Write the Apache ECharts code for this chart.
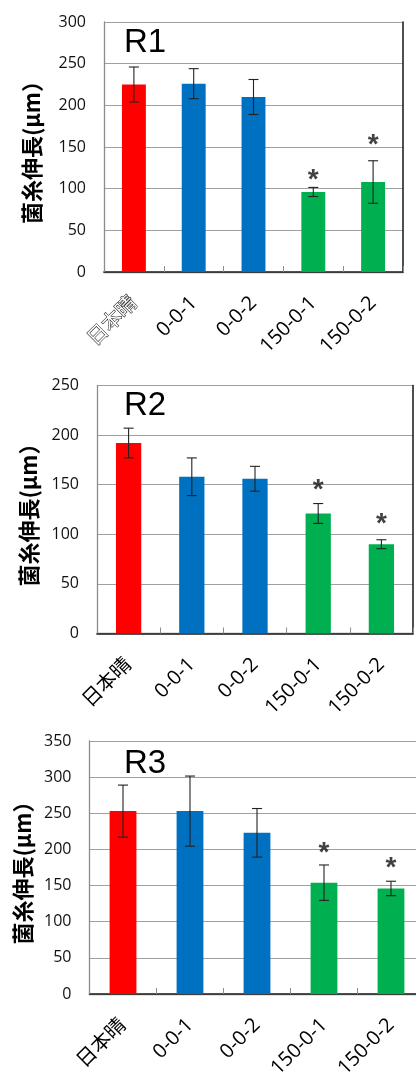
<!DOCTYPE html>
<html>
<head>
<meta charset="utf-8">
<script src="https://cdn.jsdelivr.net/npm/echarts@6/dist/echarts.min.js"></script>
<style>
html,body{margin:0;padding:0;background:#fff;}
#chart{width:416px;height:1073px;}
</style>
</head>
<body>
<div id="chart"></div>
<script>
// ---- data ----
const categories = ['日本晴', '0-0-1', '0-0-2', '150-0-1', '150-0-2'];
const barColors = ['#FF0000', '#0070C0', '#0070C0', '#00B050', '#00B050'];
const panelTitles = ['R1', 'R2', 'R3'];
const yMaxes = [300, 250, 350];
const yStep = 50;

const r1Means = [225, 226, 210, 96, 108];
const r1Errors = [21, 18, 21, 5.5, 25.5];
const r1Stars = [null, null, null, 119, 161];

const r2Means = [192, 158, 156, 121, 90];
const r2Errors = [15, 19, 12.5, 10, 4.5];
const r2Stars = [null, null, null, 151, 117];

const r3Means = [253, 253, 223, 154, 146];
const r3Errors = [36, 48.5, 33.6, 24.5, 10];
const r3Stars = [null, null, null, 204, 184];

const yAxisName = '菌糸伸長(µm）';

// ---- layout ----
const grids = [
  {left: 104, top: 22, width: 299, height: 250},
  {left: 97, top: 385.5, width: 316, height: 248},
  {left: 89.5, top: 741, width: 335, height: 253}
];
const nameGaps = [61, 57, 56];
const titlePos = [{left: 124, top: 26}, {left: 124, top: 389}, {left: 124, top: 747}];

const panels = [
  {means: r1Means, errors: r1Errors, stars: r1Stars},
  {means: r2Means, errors: r2Errors, stars: r2Stars},
  {means: r3Means, errors: r3Errors, stars: r3Stars}
];

const numFont = '"Open Sans", "Noto Sans CJK JP", sans-serif';

const option = {
  animation: false,
  backgroundColor: '#fff',
  title: panelTitles.map((t, i) => ({
    text: t, left: titlePos[i].left, top: titlePos[i].top, padding: 0,
    textStyle: {fontSize: 33, fontWeight: 'normal', fontFamily: '"Liberation Sans", Arial, sans-serif', color: '#000'}
  })),
  grid: grids.map(g => Object.assign({containLabel: false, outerBoundsMode: 'none'}, g)),
  xAxis: [],
  yAxis: [],
  series: []
};

panels.forEach((p, i) => {
  option.xAxis.push({
    type: 'category', gridIndex: i, data: categories, position: 'bottom',
    axisLine: {lineStyle: {color: '#8c8c8c', width: 1.3}},
    axisTick: {show: true, inside: true, length: 6, lineStyle: {color: '#8c8c8c'}},
    axisLabel: {
      interval: 0, rotate: 45, margin: 28, fontSize: 20, color: '#000', fontFamily: numFont,
      formatter: (v) => (i === 0 && v === '日本晴') ? '{o|' + v + '}' : v,
      rich: {o: {fontSize: 20, color: '#fff', textBorderColor: '#000', textBorderWidth: 1, fontFamily: numFont}}
    }
  });
  option.xAxis.push({
    type: 'category', gridIndex: i, data: categories, position: 'top',
    axisLine: {lineStyle: {color: '#222', width: 1.6}},
    axisTick: {show: false}, axisLabel: {show: false}
  });
  option.yAxis.push({
    type: 'value', gridIndex: i, min: 0, max: yMaxes[i], interval: yStep,
    name: yAxisName, nameLocation: 'middle', nameGap: nameGaps[i], nameRotate: 90,
    nameTextStyle: {fontSize: 22, fontWeight: 'bold', color: '#000', fontFamily: '"Noto Sans CJK JP", sans-serif'},
    axisLine: {show: true, lineStyle: {color: '#8c8c8c', width: 1.3}},
    axisTick: {show: false},
    axisLabel: {fontSize: 16, color: '#111', margin: 18, fontFamily: numFont},
    splitLine: {show: true, lineStyle: {color: '#a0a0a0', width: 1.2}}
  });
  option.yAxis.push({
    type: 'value', gridIndex: i, min: 0, max: yMaxes[i], interval: yStep, position: 'right',
    axisLine: {show: true, lineStyle: {color: '#222', width: 1.6}},
    axisTick: {show: false}, axisLabel: {show: false}, splitLine: {show: false}
  });
  const xIdx = i * 2, yIdx = i * 2;
  option.series.push({
    type: 'bar', xAxisIndex: xIdx, yAxisIndex: yIdx, barWidth: '40%',
    data: p.means.map((v, k) => ({value: v, itemStyle: {color: barColors[k]}})),
    z: 2
  });
  option.series.push({
    type: 'custom', xAxisIndex: xIdx, yAxisIndex: yIdx, z: 5,
    data: p.means.map((m, k) => [k, m - p.errors[k], m + p.errors[k]]),
    encode: {x: 0, y: [1, 2]},
    renderItem: (params, api) => {
      const x = api.value(0);
      const lo = api.coord([x, api.value(1)]);
      const hi = api.coord([x, api.value(2)]);
      const hw = 5;
      const st = {stroke: '#222', lineWidth: 1.1};
      return {type: 'group', children: [
        {type: 'line', shape: {x1: hi[0], y1: hi[1], x2: lo[0], y2: lo[1]}, style: st},
        {type: 'line', shape: {x1: hi[0] - hw, y1: hi[1], x2: hi[0] + hw, y2: hi[1]}, style: st},
        {type: 'line', shape: {x1: lo[0] - hw, y1: lo[1], x2: lo[0] + hw, y2: lo[1]}, style: st}
      ]};
    }
  });
  option.series.push({
    type: 'scatter', xAxisIndex: xIdx, yAxisIndex: yIdx, symbolSize: 0, z: 6,
    data: p.stars.map((v, k) => v == null ? null : [k, v]).filter(d => d),
    label: {show: true, position: 'inside', formatter: '*', fontSize: 28, fontWeight: 'bold', color: '#111',
      fontFamily: '"Liberation Sans", Arial, sans-serif', offset: [0, 7]}
  });
});

const chart = echarts.init(document.getElementById('chart'), null, {renderer: 'canvas'});
chart.setOption(option);
</script>
</body>
</html>
